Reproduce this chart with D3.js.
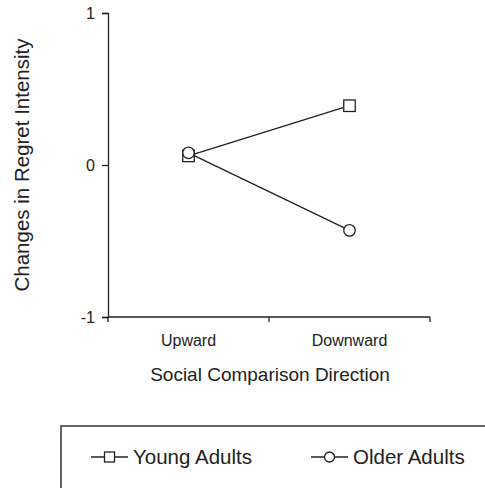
<!DOCTYPE html>
<html>
<head>
<meta charset="utf-8">
<script src="https://cdn.jsdelivr.net/npm/d3@7"></script>
<style>
  body { margin: 0; background: #fff; }
  text { font-family: "Liberation Sans", Arial, sans-serif; fill: #222; }
</style>
</head>
<body>
<div id="chart"></div>
<script>
    var width = 485,
        height = 488;

    // data
    var directions = ["Upward", "Downward"];
    var youngAdults = [0.06, 0.39];
    var olderAdults = [0.08, -0.43];
    var yTicks = [-1, 0, 1];
    var seriesNames = ["Young Adults", "Older Adults"];

    var series = [
        { name: seriesNames[0], values: youngAdults, shape: "square" },
        { name: seriesNames[1], values: olderAdults, shape: "circle" }
    ];

    var svg = d3.select("#chart").append("svg")
        .attr("width", width)
        .attr("height", height);

    var x = d3.scaleBand()
        .domain(directions)
        .range([108, 430]);

    var y = d3.scaleLinear()
        .domain([-1, 1])
        .range([317, 13]);

    // y axis
    var yAxis = svg.append("g")
        .attr("transform", "translate(108,0)")
        .call(d3.axisLeft(y).tickValues(yTicks).tickSize(6).tickPadding(7)
            .tickFormat(function (d) { return String(d); }));
    yAxis.select(".domain").attr("stroke", "#222").attr("stroke-width", 1.3);
    yAxis.selectAll(".tick line").attr("stroke", "#222").attr("stroke-width", 1.3);
    yAxis.selectAll("text")
        .attr("font-family", null)
        .attr("font-size", null)
        .style("font-size", "16px").attr("fill", "#222");

    // x axis, ticks at the band edges
    var xAxis = svg.append("g")
        .attr("transform", "translate(0,317)");
    xAxis.append("line")
        .attr("x1", 108).attr("x2", 430)
        .attr("stroke", "#222").attr("stroke-width", 1.3);
    var edges = directions.map(function (d) { return x(d); }).concat([x.range()[1]]);
    xAxis.selectAll("line.tk")
        .data(edges)
        .enter().append("line")
        .attr("class", "tk")
        .attr("x1", function (d) { return d; })
        .attr("x2", function (d) { return d; })
        .attr("y1", 0).attr("y2", 5)
        .attr("stroke", "#222").attr("stroke-width", 1.3);
    xAxis.selectAll("text")
        .data(directions)
        .enter().append("text")
        .attr("x", function (d) { return x(d) + x.bandwidth() / 2; })
        .attr("y", 29)
        .attr("text-anchor", "middle")
        .style("font-size", "16px")
        .text(function (d) { return d; });

    // axis titles
    svg.append("text")
        .attr("transform", "translate(29,165) rotate(-90)")
        .attr("text-anchor", "middle")
        .style("font-size", "20.5px")
        .text("Changes in Regret Intensity");

    svg.append("text")
        .attr("x", 270)
        .attr("y", 381)
        .attr("text-anchor", "middle")
        .style("font-size", "19px")
        .text("Social Comparison Direction");

    var line = d3.line()
        .x(function (d, i) { return x(directions[i]) + x.bandwidth() / 2; })
        .y(function (d) { return y(d); });

    function drawMarker(sel, shape, size) {
        if (shape === "square") {
            sel.append("rect")
                .attr("x", -size / 2).attr("y", -size / 2)
                .attr("width", size).attr("height", size);
        } else {
            sel.append("circle").attr("r", size / 2);
        }
        sel.selectAll("rect,circle")
            .attr("fill", "#fff")
            .attr("stroke", "#222")
            .attr("stroke-width", 1.3);
    }

    var sg = svg.selectAll("g.series")
        .data(series)
        .enter().append("g")
        .attr("class", "series");

    sg.append("path")
        .attr("d", function (d) { return line(d.values); })
        .attr("fill", "none")
        .attr("stroke", "#222")
        .attr("stroke-width", 1.3);

    sg.each(function (s) {
        d3.select(this).selectAll("g.pt")
            .data(s.values)
            .enter().append("g")
            .attr("class", "pt")
            .attr("transform", function (d, i) {
                return "translate(" + (x(directions[i]) + x.bandwidth() / 2) + "," + y(d) + ")";
            })
            .each(function () { drawMarker(d3.select(this), s.shape, 11.5); });
    });

    // legend box (runs off the right and bottom edge)
    var legend = svg.append("g");
    legend.append("rect")
        .attr("x", 61).attr("y", 426)
        .attr("width", 440).attr("height", 80)
        .attr("fill", "none")
        .attr("stroke", "#333")
        .attr("stroke-width", 1.5);

    var legendX = [91, 311];
    var li = legend.selectAll("g.item")
        .data(series)
        .enter().append("g")
        .attr("class", "item")
        .attr("transform", function (d, i) { return "translate(" + legendX[i] + ",457)"; });
    li.append("line")
        .attr("x1", 0).attr("x2", 37)
        .attr("stroke", "#222").attr("stroke-width", 1.3);
    li.append("g")
        .attr("transform", "translate(18.5,0)")
        .each(function (d) { drawMarker(d3.select(this), d.shape, 10); });
    li.append("text")
        .attr("x", 42)
        .attr("dy", "0.35em")
        .style("font-size", "20.5px")
        .text(function (d) { return d.name; });
</script>
</body>
</html>
